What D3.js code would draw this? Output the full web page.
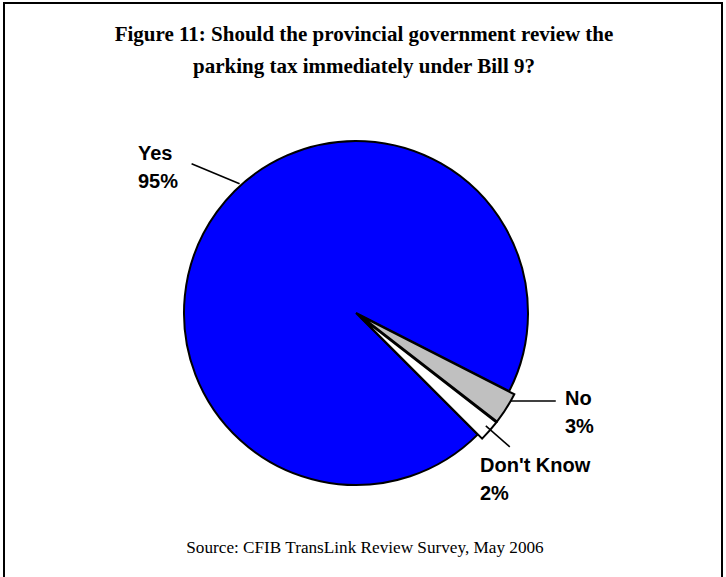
<!DOCTYPE html>
<html>
<head>
<meta charset="utf-8">
<script src="https://cdn.jsdelivr.net/npm/d3@7"></script>
<style>
  html, body { margin: 0; padding: 0; background: #fff; }
  svg { display: block; }
</style>
</head>
<body>
<script>
// Survey responses (percent of respondents)
const categories = ["Yes", "No", "Don't Know"];
const values = [95, 3, 2];
const labels = ["95%", "3%", "2%"];
const colors = ["#0000FF", "#C0C0C0", "#FFFFFF"];
const exploded = [false, true, true];

const titleLines = [
  "Figure 11: Should the provincial government review the",
  "parking tax immediately under Bill 9?"
];
const sourceText = "Source: CFIB TransLink Review Survey, May 2006";

const W = 726, H = 577;
const cx = 356, cy = 313, R = 172, explodeBy = 6;
const deg = Math.PI / 180;

const svg = d3.select("body").append("svg")
  .attr("width", W).attr("height", H);

// frame
svg.append("path")
  .attr("d", `M4,${H + 2} V3 H722 V${H + 2}`)
  .attr("fill", "none").attr("stroke", "#000").attr("stroke-width", 2);

// title
svg.append("text")
  .attr("x", 364).attr("y", 41)
  .attr("text-anchor", "middle")
  .attr("font-family", "'Liberation Serif', 'Times New Roman', serif")
  .attr("font-weight", "bold").attr("font-size", 21)
  .selectAll("tspan").data(titleLines).join("tspan")
  .attr("x", 364).attr("dy", (d, i) => i ? 32 : 0)
  .text(d => d);

const data = categories.map((c, i) => ({ cat: c, value: values[i], label: labels[i], color: colors[i], exploded: exploded[i] }));

// Yes starts at the lower-right so the small slices sit at about 4 o'clock
const pie = d3.pie().sort(null).value(d => d.value)
  .startAngle(135 * deg).endAngle(135 * deg + 2 * Math.PI);
const arcs = pie(data);
const arc = d3.arc().innerRadius(0).outerRadius(R);

const g = svg.append("g").attr("transform", `translate(${cx},${cy})`);

function unit(a) { return [Math.sin(a), -Math.cos(a)]; }

g.selectAll("path.slice").data(arcs).join("path")
  .attr("class", "slice")
  .attr("d", arc)
  .attr("transform", d => {
    if (!d.data.exploded) return null;
    const [ux, uy] = unit((d.startAngle + d.endAngle) / 2);
    return `translate(${ux * explodeBy},${uy * explodeBy})`;
  })
  .attr("fill", d => d.data.color)
  .attr("stroke", "#000").attr("stroke-width", 2)
  .attr("stroke-linejoin", "miter");

// labels with leader lines: a = where the leader meets the slice
// (clockwise from 12 o'clock), r0 = radius there, (dx, dy) = run of the leader
const labelFont = "'Liberation Sans', Arial, sans-serif";
const labelSpec = {
  "Yes":        { a: -42 * deg,   r0: R + 2, dx: -48, dy: -20, tx: -218, ty: -153 },
  "No":         { a: 119.6 * deg, r0: R + 6, dx: 45,  dy: 0,   tx: 209,  ty: 92 },
  "Don't Know": { a: 131 * deg,   r0: R,     dx: 24,  dy: 21,  tx: 124,  ty: 159 }
};

arcs.forEach(d => {
  const s = labelSpec[d.data.cat];
  const [ux, uy] = unit(s.a);
  const x0 = ux * s.r0, y0 = uy * s.r0;
  g.append("line")
    .attr("x1", x0).attr("y1", y0).attr("x2", x0 + s.dx).attr("y2", y0 + s.dy)
    .attr("stroke", "#000").attr("stroke-width", 1.5);
  const t = g.append("text")
    .attr("font-family", labelFont).attr("font-weight", "bold")
    .attr("font-size", 20)
    .attr("x", s.tx).attr("y", s.ty);
  t.append("tspan").attr("x", s.tx).attr("dy", 0).text(d.data.cat);
  t.append("tspan").attr("x", s.tx).attr("dy", 28).text(d.data.label);
});

// source note
svg.append("text")
  .attr("x", 365).attr("y", 553)
  .attr("text-anchor", "middle")
  .attr("font-family", "'Liberation Serif', 'Times New Roman', serif")
  .attr("font-size", 17.2)
  .text(sourceText);
</script>
</body>
</html>
